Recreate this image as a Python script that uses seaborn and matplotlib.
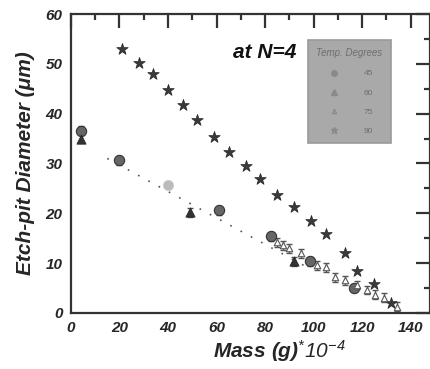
import pandas as pd
import matplotlib
matplotlib.use("Agg")
import matplotlib.pyplot as plt
from matplotlib.ticker import MultipleLocator
from matplotlib.lines import Line2D
import seaborn as sns

# data
star_mass = [21, 28, 34, 40, 46, 52, 59, 65, 72, 78, 85, 92, 99, 105, 113, 118, 125, 132]
star_diam = [53, 50.2, 48, 44.8, 41.8, 38.8, 35.4, 32.4, 29.4, 26.8, 23.6, 21.2, 18.4, 15.8, 12, 8.4, 5.8, 2]

circ_mass = [4, 20, 61, 82.5, 98.5, 116.5]
circ_diam = [36.6, 30.6, 20.6, 15.4, 10.4, 5.0]
pale_mass = [40]
pale_diam = [25.6]

tri_mass = [4, 49, 92]
tri_diam = [35, 20.2, 10.4]

open_mass = [85, 87.5, 90, 95, 101.5, 105, 109, 113, 118, 122, 125.5, 129, 134.5]
open_diam = [14.2, 13.6, 13, 12, 9.6, 9.2, 7.2, 6.6, 5.6, 4.6, 3.6, 3, 1.2]

fit_mass = [15, 98]
fit_diam = [31, 9]

temp_labels = ["45", "60", "75", "90"]

sns.set_theme(style="white")
plt.rcParams["font.family"] = ["Liberation Sans", "DejaVu Sans"]
plt.rcParams["mathtext.fontset"] = "custom"
plt.rcParams["mathtext.it"] = "Liberation Sans:italic"
plt.rcParams["mathtext.rm"] = "Liberation Sans:italic"

fig = plt.figure(figsize=(4.3, 3.69), dpi=100)
ax = fig.add_axes([0.165, 0.152, 0.835, 0.81])

ax.plot(fit_mass, fit_diam, ls=(0, (1, 6)), color="#555555", lw=1.2, zorder=1)

ax.errorbar(circ_mass + tri_mass + open_mass, circ_diam + tri_diam + open_diam, yerr=0.9,
            fmt="none", ecolor="#555555", elinewidth=1, capsize=2, zorder=2)

sns.scatterplot(x=star_mass, y=star_diam, marker="*", s=75, color="#3a3a3a",
                edgecolor="#222222", linewidth=0.5, ax=ax, zorder=3)
sns.scatterplot(x=circ_mass, y=circ_diam, marker="o", s=55, color="#666666",
                edgecolor="#333333", linewidth=0.8, ax=ax, zorder=3)
sns.scatterplot(x=pale_mass, y=pale_diam, marker="o", s=55, color="#bbbbbb",
                edgecolor="#cccccc", linewidth=0.5, ax=ax, zorder=3)
sns.scatterplot(x=tri_mass, y=tri_diam, marker="^", s=45, color="#333333",
                edgecolor="#222222", linewidth=0.5, ax=ax, zorder=3)
sns.scatterplot(x=open_mass, y=open_diam, marker="^", s=22, facecolor="white",
                edgecolor="#555555", linewidth=0.8, ax=ax, zorder=3)

ax.set_xlim(0, 148)
ax.set_ylim(0, 60)
ax.xaxis.set_major_locator(MultipleLocator(20))
ax.xaxis.set_minor_locator(MultipleLocator(10))
ax.yaxis.set_major_locator(MultipleLocator(10))
ax.yaxis.set_minor_locator(MultipleLocator(5))
ax.tick_params(which="both", direction="in", top=True, right=True, color="#333333", width=1.6)
ax.tick_params(which="major", length=10, labelsize=11, pad=6)
ax.tick_params(which="minor", length=4.5)
for lab in ax.get_xticklabels() + ax.get_yticklabels():
    lab.set_fontweight("bold")
    lab.set_fontstyle("italic")
for sp in ax.spines.values():
    sp.set_linewidth(1.6)
    sp.set_color("#333333")

ax.set_xlabel(r"Mass (g)$\mathit{^{*}10^{-4}}$", fontsize=15, fontweight="bold",
              fontstyle="italic")
ax.xaxis.set_label_coords(0.58, -0.085)
ax.set_ylabel("Etch-pit Diameter (μm)", fontsize=15, fontweight="bold",
              fontstyle="italic", labelpad=8)

ax.text(0.45, 0.87, "at N=4", transform=ax.transAxes, fontsize=15,
        fontweight="bold", fontstyle="italic", color="#111111", va="center")

handles = [
    Line2D([], [], ls="none", marker="o", ms=4, color="#8a8a8a"),
    Line2D([], [], ls="none", marker="^", ms=4, color="#8a8a8a"),
    Line2D([], [], ls="none", marker="^", ms=3, mfc="none", mec="#8a8a8a"),
    Line2D([], [], ls="none", marker="*", ms=5, color="#8a8a8a"),
]
leg = ax.legend(handles, temp_labels, title="Temp. Degrees", loc="upper left",
                bbox_to_anchor=(0.66, 0.913), fontsize=6, title_fontsize=7,
                labelspacing=1.35, borderpad=1.0, handletextpad=2.5,
                frameon=True, fancybox=False, facecolor="#a9a9a9",
                edgecolor="#9a9a9a", framealpha=1, markerfirst=True, borderaxespad=0)
leg.get_frame().set_linewidth(1.2)
for t in leg.get_texts():
    t.set_color("#6e6e6e")
leg.get_title().set_color("#6e6e6e")
leg.get_title().set_fontstyle("italic")
leg._legend_box.align = "center"

fig.savefig("out.png", dpi=100)
